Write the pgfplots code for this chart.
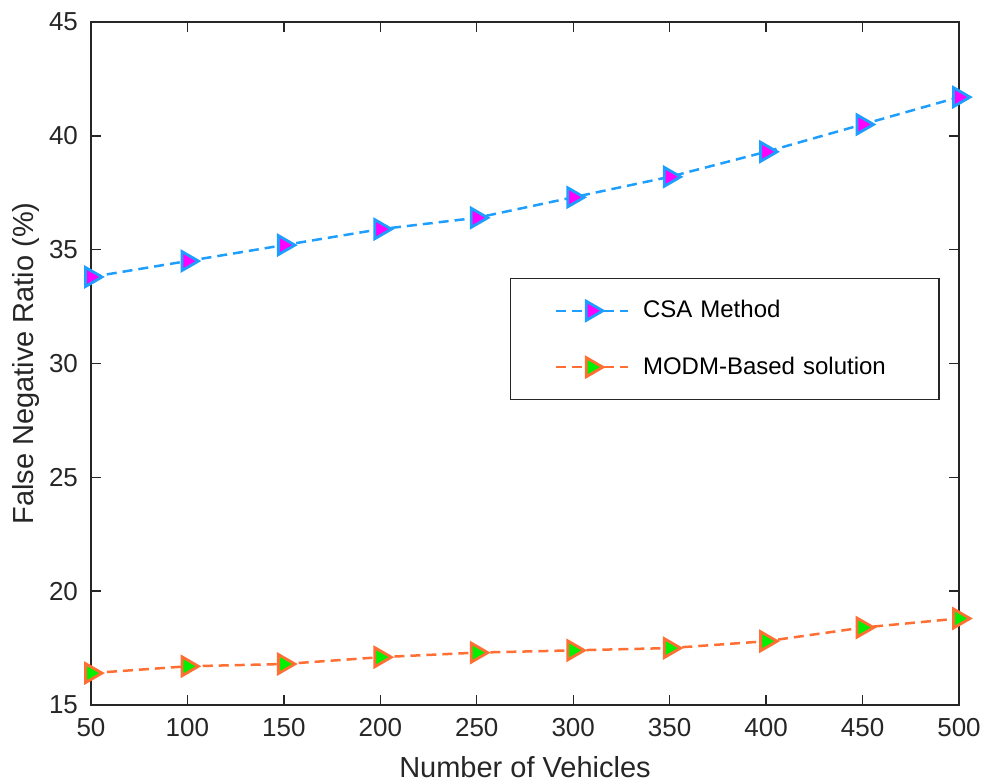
\documentclass[border=0pt]{standalone}
\usepackage{pgfplots}
\pgfplotsset{compat=1.18}
\usepackage{fontspec}
\setmainfont{Liberation Sans}
\definecolor{axgray}{RGB}{38,38,38}
\definecolor{csaline}{RGB}{30,158,255}
\definecolor{csafill}{RGB}{255,0,255}
\definecolor{modline}{RGB}{255,110,50}
\definecolor{modfill}{RGB}{0,240,0}
\begin{document}
\begin{tikzpicture}
\useasboundingbox (-45.5pt,-39pt) rectangle (445.5pt,352.5pt);
\begin{axis}[
  at={(0,0)}, anchor=south west,
  scale only axis,
  width=434pt, height=341.5pt,
  xmin=50, xmax=500, ymin=15, ymax=45,
  xtick={50,100,...,500}, ytick={15,20,...,45},
  tick align=inside,
  major tick length=5pt,
  axis line style={axgray, line width=0.7pt},
  every tick/.style={axgray, line width=0.7pt},
  tick label style={font=\fontsize{13}{15}\selectfont, text=axgray},
  /pgf/number format/assume math mode=true,
  xticklabel style={yshift=-3pt},
  yticklabel style={xshift=-3pt},
  xlabel={Number of Vehicles},
  ylabel={False Negative Ratio (\%)},
  label style={font=\fontsize{14.5}{16}\selectfont, text=axgray},
  xlabel style={yshift=-3pt},
  ylabel style={yshift=-2pt},
  legend style={at={(0.4827,0.4466)}, anchor=south west, draw=axgray, line width=0.6pt,
    font=\fontsize{12}{14}\selectfont, inner xsep=22pt, inner ysep=9pt, row sep=14pt,
    nodes={text width=124pt, align=left},
    /tikz/every odd column/.append style={column sep=5pt}},
  legend cell align=left,
  legend image code/.code={%
    \draw[mark repeat=2, mark phase=2, #1] plot coordinates {(0pt,0pt) (18pt,0pt) (36pt,0pt)};},
  clip=false,
]
\addplot[csaline, line width=1.25pt, dash pattern=on 5pt off 3pt,
  mark=triangle*, mark size=5.5pt,
  mark options={solid, rotate=-90, fill=csafill, draw=csaline, line width=1.4pt}]
  coordinates {(50,33.8) (100,34.5) (150,35.2) (200,35.9) (250,36.4) (300,37.3) (350,38.2) (400,39.3) (450,40.5) (500,41.7)};
\addlegendentry{CSA Method}
\addplot[modline, line width=1.25pt, dash pattern=on 5pt off 3pt,
  mark=triangle*, mark size=5.5pt,
  mark options={solid, rotate=-90, fill=modfill, draw=modline, line width=1.4pt}]
  coordinates {(50,16.4) (100,16.7) (150,16.8) (200,17.1) (250,17.3) (300,17.4) (350,17.5) (400,17.8) (450,18.4) (500,18.8)};
\addlegendentry{\mbox{MODM-Based solution}}
\end{axis}
\end{tikzpicture}
\end{document}
